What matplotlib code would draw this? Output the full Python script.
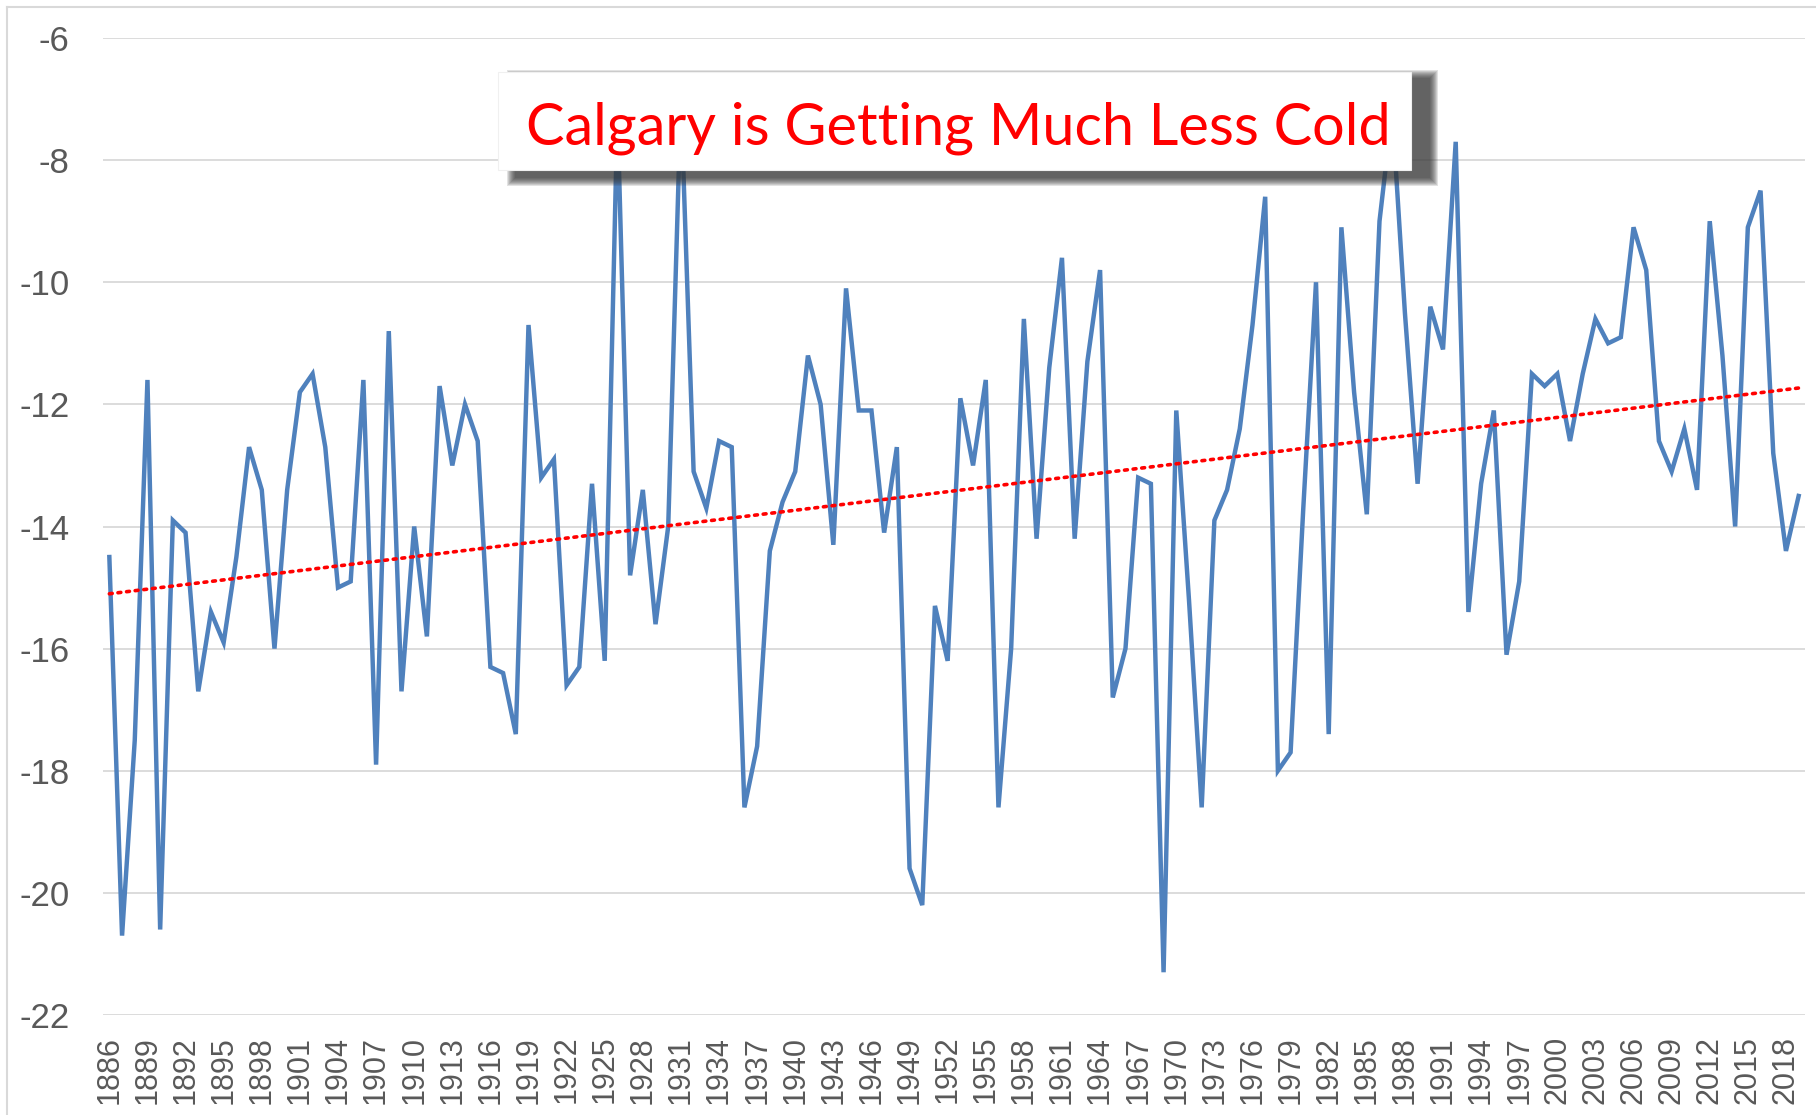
import numpy as np
import matplotlib
import matplotlib.pyplot as plt
from matplotlib.patches import Rectangle
from matplotlib.lines import Line2D

matplotlib.use('Agg')

# annual temperature (deg C), 1886 - 2019
years = np.arange(1886, 2020)
temps = [
    -14.5, -20.7, -17.5, -11.6, -20.6, -13.9, -14.1, -16.7, -15.4, -15.9,  # 1886-1895
    -14.5, -12.7, -13.4, -16.0, -13.4, -11.8, -11.5, -12.7, -15.0, -14.9,  # 1896-1905
    -11.6, -17.9, -10.8, -16.7, -14.0, -15.8, -11.7, -13.0, -12.0, -12.6,  # 1906-1915
    -16.3, -16.4, -17.4, -10.7, -13.2, -12.9, -16.6, -16.3, -13.3, -16.2,  # 1916-1925
    -7.2, -14.8, -13.4, -15.6, -14.0, -7.0, -13.1, -13.7, -12.6, -12.7,    # 1926-1935
    -18.6, -17.6, -14.4, -13.6, -13.1, -11.2, -12.0, -14.3, -10.1, -12.1,  # 1936-1945
    -12.1, -14.1, -12.7, -19.6, -20.2, -15.3, -16.2, -11.9, -13.0, -11.6,  # 1946-1955
    -18.6, -16.0, -10.6, -14.2, -11.4, -9.6, -14.2, -11.3, -9.8, -16.8,    # 1956-1965
    -16.0, -13.2, -13.3, -21.3, -12.1, -15.2, -18.6, -13.9, -13.4, -12.4,  # 1966-1975
    -10.7, -8.6, -18.0, -17.7, -13.7, -10.0, -17.4, -9.1, -11.8, -13.8,    # 1976-1985
    -9.0, -7.2, -10.5, -13.3, -10.4, -11.1, -7.7, -15.4, -13.3, -12.1,     # 1986-1995
    -16.1, -14.9, -11.5, -11.7, -11.5, -12.6, -11.5, -10.6, -11.0, -10.9,  # 1996-2005
    -9.1, -9.8, -12.6, -13.1, -12.4, -13.4, -9.0, -11.2, -14.0, -9.1,      # 2006-2015
    -8.5, -12.8, -14.4, -13.5,                                             # 2016-2019
]
tick_years = np.arange(1886, 2019, 3)
y_ticks = [-22, -20, -18, -16, -14, -12, -10, -8, -6]
title = 'Calgary is Getting Much Less Cold'

W, H = 1816, 1115
fig = plt.figure(figsize=(W / 100, H / 100), dpi=100)
fig.patch.set_facecolor('white')


def fx(px):
    return px / W


def fy(py):
    return 1 - py / H


ax = fig.add_axes([fx(103), fy(1015), fx(1805) - fx(103), fy(38) - fy(1015)])

ax.plot(years, temps, color='#4f81bd', lw=3.2, solid_joinstyle='miter', zorder=3)

slope, icpt = np.polyfit(years, temps, 1)
ax.plot(years, slope * years + icpt, color='#ff0000', lw=2.6,
        linestyle=(0, (0.8, 1.6)), dash_capstyle='round', zorder=4)

ax.set_xlim(1885.5, 2019.5)
ax.set_ylim(-22, -6)
ax.set_yticks(y_ticks)
ax.set_yticklabels([str(v) for v in y_ticks])
ax.set_xticks(tick_years)
ax.set_xticklabels([str(y) for y in tick_years], rotation=90)
ax.tick_params(axis='y', length=0, pad=24, labelsize=25, labelcolor='#595959')
ax.tick_params(axis='x', length=0, pad=15, labelsize=22, labelcolor='#595959')
for lab in ax.get_xticklabels() + ax.get_yticklabels():
    lab.set_fontfamily('Liberation Sans')
ax.grid(axis='y', color='#d9d9d9', lw=1.3, zorder=0)
for s in ax.spines.values():
    s.set_visible(False)

# outer chart frame (left and top edges show)
fig.add_artist(Line2D([fx(7), fx(7)], [fy(7), 0], color='#d9d9d9', lw=1.5))
fig.add_artist(Line2D([fx(7), 1], [fy(7), fy(7)], color='#d9d9d9', lw=1.5))

# title box with soft drop shadow
bx0, by0, bx1, by1 = 498, 72, 1411, 170
dx, dy = 18, 7
for r in range(9, 0, -1):
    fig.add_artist(Rectangle((fx(bx0 + dx - r), fy(by1 + dy + r)),
                             fx(bx1 - bx0 + 2 * r), (by1 - by0 + 2 * r) / H,
                             transform=fig.transFigure, facecolor='#333333',
                             edgecolor='none', alpha=0.14, zorder=5))
fig.add_artist(Rectangle((fx(bx0), fy(by1)), fx(bx1 - bx0), (by1 - by0) / H,
                         transform=fig.transFigure, facecolor='white',
                         edgecolor='#f0f0f0', lw=0.8, zorder=6))
fig.text(fx((bx0 + bx1) / 2 + 4), fy(144), title, color='#ff0000', fontsize=41.5,
         family='Lato', ha='center', va='baseline', zorder=7)

fig.savefig('out.png', dpi=100, facecolor='white')
